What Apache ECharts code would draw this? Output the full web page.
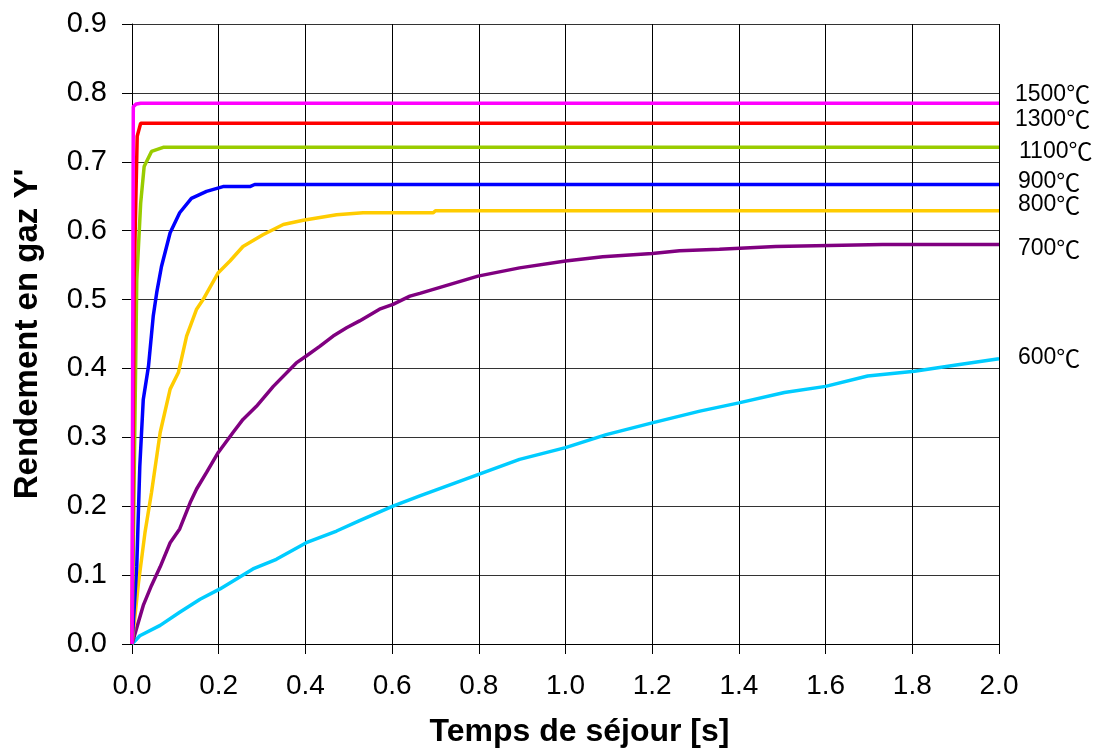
<!DOCTYPE html>
<html>
<head>
<meta charset="utf-8">
<script src="https://cdn.jsdelivr.net/npm/echarts@6/dist/echarts.min.js"></script>
<style>
html,body{margin:0;padding:0;background:#fff;}
#chart{width:1098px;height:755px;}
</style>
</head>
<body>
<div id="chart"></div>
<script>
// ---- data ----
const seriesTemps = ['1500', '1300', '1100', '900', '800', '700', '600'];
const tempUnit = '℃';
const xTicks = ['0.0','0.2','0.4','0.6','0.8','1.0','1.2','1.4','1.6','1.8','2.0'];
const yTicks = ['0.0','0.1','0.2','0.3','0.4','0.5','0.6','0.7','0.8','0.9'];

const d1500 = [[0,0],[0.003,0.78],[0.01,0.784],[0.02,0.785],[2.0,0.785]];
const d1300 = [[0,0],[0.005,0.53],[0.012,0.737],[0.02,0.756],[2.0,0.756]];
const d1100 = [[0,0],[0.011,0.529],[0.02,0.64],[0.028,0.693],[0.045,0.715],[0.072,0.721],[2.0,0.721]];
const d900 = [[0,0],[0.011,0.113],[0.018,0.258],[0.026,0.355],[0.038,0.403],[0.049,0.476],[0.057,0.51],
  [0.068,0.548],[0.088,0.597],[0.11,0.626],[0.137,0.647],[0.172,0.657],[0.21,0.664],[0.272,0.664],
  [0.283,0.667],[2.0,0.667]];
const d800 = [[0,0],[0.015,0.089],[0.03,0.162],[0.045,0.22],[0.065,0.307],[0.088,0.37],[0.107,0.394],
  [0.126,0.447],[0.149,0.486],[0.164,0.5],[0.199,0.539],[0.226,0.556],[0.256,0.577],[0.302,0.594],
  [0.349,0.609],[0.395,0.615],[0.472,0.623],[0.533,0.626],[0.695,0.626],[0.70,0.629],[2.0,0.629]];
const d700 = [[0,0],[0.026,0.056],[0.045,0.085],[0.065,0.112],[0.088,0.147],[0.11,0.167],[0.134,0.205],
  [0.149,0.225],[0.172,0.249],[0.199,0.278],[0.233,0.307],[0.256,0.326],[0.287,0.345],[0.326,0.374],
  [0.379,0.408],[0.402,0.418],[0.433,0.432],[0.464,0.447],[0.495,0.459],[0.525,0.469],[0.571,0.486],
  [0.602,0.493],[0.641,0.505],[0.664,0.509],[0.798,0.534],[0.894,0.546],[1.0,0.556],[1.086,0.562],
  [1.2,0.567],[1.263,0.571],[1.355,0.573],[1.485,0.577],[1.731,0.58],[2.0,0.58]];
const d600 = [[0,0],[0.018,0.012],[0.065,0.027],[0.11,0.046],[0.157,0.065],[0.203,0.08],[0.279,0.109],
  [0.333,0.123],[0.402,0.147],[0.472,0.164],[0.525,0.179],[0.602,0.2],[0.664,0.215],[0.798,0.246],
  [0.894,0.268],[1.0,0.285],[1.094,0.304],[1.2,0.321],[1.31,0.338],[1.4,0.35],[1.505,0.365],
  [1.6,0.374],[1.697,0.389],[1.805,0.396],[1.913,0.406],[2.0,0.414]];

const allData = [d1500, d1300, d1100, d900, d800, d700, d600];

// ---- styles ----
const colors = ['#FF00FF', '#FF0000', '#99CC00', '#0000FF', '#FFCC00', '#800080', '#00CCFF'];
const labelOffsets = [[16,-9],[16,-4],[20,4],[19,-3],[19,-6],[19,4],[19,-1]];
const FONT = "'Liberation Sans', Arial, 'Noto Sans CJK SC', sans-serif";
const CJK = "'Noto Sans CJK SC', 'Noto Sans CJK JP', sans-serif";

const chart = echarts.init(document.getElementById('chart'), null, {renderer: 'canvas'});

const series = allData.map((d, i) => ({
  name: seriesTemps[i] + tempUnit,
  type: 'line',
  data: d,
  showSymbol: false,
  symbol: 'none',
  smooth: false,
  animation: false,
  lineStyle: {color: colors[i], width: 3.5},
  itemStyle: {color: colors[i]},
  z: 10 - i,
  endLabel: {
    show: true,
    formatter: '{n|' + seriesTemps[i] + '}{u|' + tempUnit + '}',
    distance: 0,
    offset: labelOffsets[i],
    rich: {
      n: {fontSize: 23, fontFamily: FONT, color: '#000'},
      u: {fontSize: 24, fontFamily: CJK, color: '#000'}
    }
  }
}));

chart.setOption({
  animation: false,
  backgroundColor: '#fff',
  grid: {left: 132, right: 99, top: 24, bottom: 111, containLabel: false},
  xAxis: {
    type: 'value',
    min: 0, max: 2, interval: 0.2,
    name: 'Temps de séjour [s]',
    nameLocation: 'middle',
    nameGap: 72,
    nameTextStyle: {fontSize: 32, fontWeight: 'bold', color: '#000', fontFamily: FONT, padding: [0, 0, 0, 28]},
    axisLine: {show: true, onZero: false, lineStyle: {color: '#000', width: 1}},
    axisTick: {show: true, inside: false, length: 10, lineStyle: {color: '#000'}},
    axisLabel: {
      fontSize: 28, color: '#000', fontFamily: FONT, margin: 28,
      formatter: v => xTicks[Math.round(v / 0.2)]
    },
    splitLine: {show: true, lineStyle: {color: '#000', width: 1}}
  },
  yAxis: {
    type: 'value',
    min: 0, max: 0.9, interval: 0.1,
    name: "Rendement en gaz Y'",
    nameLocation: 'middle',
    nameGap: 88,
    nameTextStyle: {fontSize: 33, fontWeight: 'bold', color: '#000', fontFamily: FONT},
    axisLine: {show: true, onZero: false, lineStyle: {color: '#000', width: 1}},
    axisTick: {show: true, inside: false, length: 10, lineStyle: {color: '#000'}},
    axisLabel: {
      fontSize: 29, color: '#000', fontFamily: FONT, margin: 25,
      formatter: v => yTicks[Math.round(v / 0.1)]
    },
    splitLine: {show: true, lineStyle: {color: '#333', width: 1}}
  },
  series: series
});
</script>
</body>
</html>
